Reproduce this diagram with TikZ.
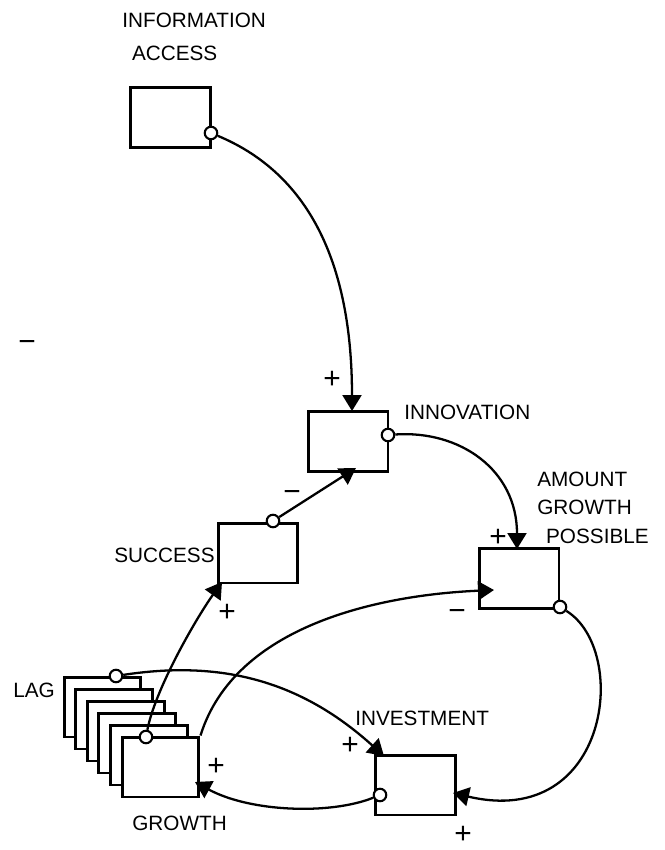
\documentclass[tikz,border=0pt]{standalone}
\usepackage{fontspec}
\setmainfont{Liberation Sans}
\usetikzlibrary{arrows.meta}

\tikzset{
  box/.style={draw, line width=1.7pt, fill=white, minimum width=1.6cm,
    minimum height=1.2cm, inner sep=0pt},
  port/.style={draw, circle, line width=1.2pt, fill=white, minimum size=0.25cm,
    inner sep=0pt},
  link/.style={line width=1.3pt, -{Triangle[length=3.2mm,width=3.8mm]}},
  lbl/.style={inner sep=0pt, font=\fontsize{11.8}{16}\selectfont},
  sgn/.style={inner sep=0pt, font=\fontsize{17}{20}\selectfont},
}

\begin{document}
\begin{tikzpicture}[x=0.02cm, y=-0.02cm]
  \useasboundingbox (0,0) rectangle (665,850);

  \node[box] (ia)   at (170.5,117.5) {};
  \node[box] (inno) at (348,441.5) {};
  \node[box] (succ) at (258,553) {};
  \node[box] (amt)  at (519,578.5) {};
  \node[box] (inv)  at (415.5,785) {};
  \foreach \i in {0,...,4}
    \node[box, minimum width=1.54cm] (lag\i) at (102.5+11.6*\i, 707+12*\i) {};
  \node[box, minimum width=1.54cm] (grow) at (160.5,767) {};

  \node[lbl, align=left, anchor=north west] (iaL) at (122,13)
    {INFORMATION\\[2.5pt]\hspace*{5.5pt}ACCESS};
  \node[lbl, anchor=west] (innoL) at (404,412) {INNOVATION};
  \node[lbl, align=left, anchor=north west] (amtL) at (537,472)
    {AMOUNT\\GROWTH\\\hspace*{5pt}POSSIBLE};
  \node[lbl, anchor=east] (succL) at (215,555) {SUCCESS};
  \node[lbl, anchor=west] (invL) at (355,718) {INVESTMENT};
  \node[lbl, anchor=west] (lagL) at (13,690) {LAG};
  \node[lbl, anchor=west] (growL) at (132,823) {GROWTH};
  \node[sgn] (m0) at (27,346) {−};

  \node[port] (iaOut)   at (211,133) {};
  \node[port] (innoOut) at (388,435) {};
  \node[port] (succOut) at (273,521) {};
  \node[port] (amtOut)  at (560,607) {};
  \node[port] (invOut)  at (380,795) {};
  \node[port] (lagOut)  at (116,676) {};
  \node[port] (growOut) at (146,737) {};

  \coordinate (innoIn)  at (352,411);
  \coordinate (innoIn2) at (356,468);
  \coordinate (amtIn)   at (517,549);
  \coordinate (amtIn2)  at (494,590);
  \coordinate (succIn)  at (222,582);
  \coordinate (invIn)   at (384,756);
  \coordinate (invIn2)  at (453,793);
  \coordinate (growIn)  at (195,782);

  \draw[link] (iaOut) .. controls (300,170) and (352,250) .. (innoIn)
    node[sgn, pos=1, shift={(-20,-31)}] {+};
  \draw[link] (innoOut) .. controls (460,430) and (517,470) .. (amtIn)
    node[sgn, pos=1, shift={(-19,-11)}] {+};
  \draw[link] (succOut) -- (innoIn2)
    node[sgn, pos=1, shift={(-64,28)}] {−};
  \draw[link] (growOut) .. controls (155,690) and (195,620) .. (succIn)
    node[sgn, pos=1, shift={(5,31)}] {+};
  \draw[link] (grow.north east) .. controls (235,625) and (380,595) .. (amtIn2)
    node[sgn, pos=1, shift={(-37,25)}] {−};
  \draw[link] (lagOut) .. controls (220,660) and (300,680) .. (invIn)
    node[sgn, pos=1, shift={(-34,-10)}] {+};
  \draw[link] (invOut) .. controls (330,815) and (250,812) .. (growIn)
    node[sgn, pos=1, shift={(21,-15)}] {+};
  \draw[link] (amtOut) .. controls (630,650) and (610,830) .. (invIn2)
    node[sgn, pos=1, shift={(10,42)}] {+};
\end{tikzpicture}
\end{document}
